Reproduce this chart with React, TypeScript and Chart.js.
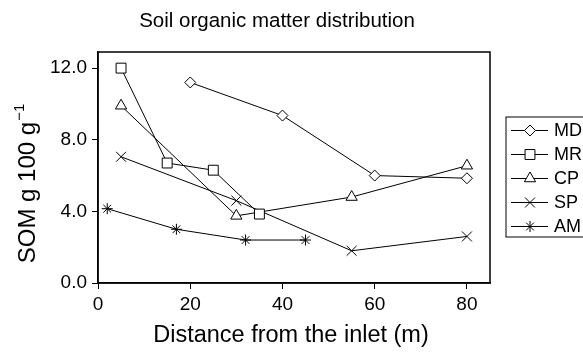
import React, { useEffect, useRef } from "react";
import { Chart, registerables } from "chart.js";
Chart.register(...registerables);

const chartTitle = "Soil organic matter distribution";
const xTitle = "Distance from the inlet (m)";
const yTitleMain = "SOM g 100 g";
const yTitleSup = "\u22121";

const seriesNames = ["MD", "MR", "CP", "SP", "AM"];
const mdX = [20, 40, 60, 80];
const mdY = [11.2, 9.35, 6.0, 5.85];
const mrX = [5, 15, 25, 35];
const mrY = [12.0, 6.7, 6.3, 3.85];
const cpX = [5, 30, 55, 80];
const cpY = [9.9, 3.75, 4.8, 6.55];
const spX = [5, 30, 55, 80];
const spY = [7.05, 4.6, 1.8, 2.6];
const amX = [2, 17, 32, 45];
const amY = [4.15, 3.0, 2.4, 2.4];

const xTicks = [0, 20, 40, 60, 80];
const yTicks = [0, 4, 8, 12];

const FONT = "'Liberation Sans', Arial, Helvetica, sans-serif";
const pointStyles = ["rectRot", "rect", "triangle", "crossRot", "star"];
const pointRadii = [5.5, 7, 6.5, 7, 5.5];

const seriesX = [mdX, mrX, cpX, spX, amX];
const seriesY = [mdY, mrY, cpY, spY, amY];

function drawMarker(ctx: CanvasRenderingContext2D, style: string, r: number, x: number, y: number) {
  ctx.beginPath();
  const s = Math.SQRT1_2 * r;
  if (style === "rect") {
    ctx.rect(x - s, y - s, 2 * s, 2 * s);
    ctx.fill();
    ctx.stroke();
  } else if (style === "rectRot") {
    ctx.moveTo(x, y - r);
    ctx.lineTo(x + r, y);
    ctx.lineTo(x, y + r);
    ctx.lineTo(x - r, y);
    ctx.closePath();
    ctx.fill();
    ctx.stroke();
  } else if (style === "triangle") {
    let rad = 0;
    ctx.moveTo(x + Math.sin(rad) * r, y - Math.cos(rad) * r);
    rad += (2 * Math.PI) / 3;
    ctx.lineTo(x + Math.sin(rad) * r, y - Math.cos(rad) * r);
    rad += (2 * Math.PI) / 3;
    ctx.lineTo(x + Math.sin(rad) * r, y - Math.cos(rad) * r);
    ctx.closePath();
    ctx.fill();
    ctx.stroke();
  } else if (style === "crossRot") {
    ctx.moveTo(x - s, y - s);
    ctx.lineTo(x + s, y + s);
    ctx.moveTo(x - s, y + s);
    ctx.lineTo(x + s, y - s);
    ctx.stroke();
  } else if (style === "star") {
    ctx.moveTo(x - s, y - s);
    ctx.lineTo(x + s, y + s);
    ctx.moveTo(x - s, y + s);
    ctx.lineTo(x + s, y - s);
    ctx.moveTo(x, y - r);
    ctx.lineTo(x, y + r);
    ctx.moveTo(x - r, y);
    ctx.lineTo(x + r, y);
    ctx.stroke();
  }
}

const decor = {
  id: "decor",
  afterDraw(chart: any) {
    const ctx = chart.ctx;
    const a = chart.chartArea;
    ctx.save();
    ctx.strokeStyle = "#000";
    ctx.lineWidth = 1.5;
    ctx.strokeRect(a.left, a.top, a.right - a.left, a.bottom - a.top);

    ctx.fillStyle = "#000";
    ctx.textAlign = "center";
    ctx.textBaseline = "middle";
    ctx.font = `20.5px ${FONT}`;
    ctx.fillText(chartTitle, 277, 21);
    ctx.font = `23.5px ${FONT}`;
    ctx.fillText(xTitle, 291, 336);

    ctx.save();
    ctx.translate(35, 184);
    ctx.rotate(-Math.PI / 2);
    ctx.font = `24px ${FONT}`;
    const wMain = ctx.measureText(yTitleMain).width;
    ctx.font = `15px ${FONT}`;
    const wSup = ctx.measureText(yTitleSup).width;
    const total = wMain + wSup;
    ctx.textAlign = "left";
    ctx.textBaseline = "alphabetic";
    ctx.font = `24px ${FONT}`;
    ctx.fillText(yTitleMain, -total / 2, 0);
    ctx.font = `15px ${FONT}`;
    ctx.fillText(yTitleSup, -total / 2 + wMain + 1, -11);
    ctx.restore();

    const lx = 506, ly = 117, lw = 90, lh = 120;
    ctx.lineWidth = 1;
    ctx.strokeRect(lx, ly, lw, lh);
    ctx.font = `18px ${FONT}`;
    ctx.textAlign = "left";
    ctx.textBaseline = "middle";
    seriesNames.forEach((name, i) => {
      const y = 130.5 + i * 24;
      ctx.strokeStyle = "#000";
      ctx.lineWidth = 1;
      ctx.beginPath();
      ctx.moveTo(511, y);
      ctx.lineTo(548, y);
      ctx.stroke();
      ctx.fillStyle = "#fff";
      drawMarker(ctx, pointStyles[i], pointRadii[i], 530, y);
      ctx.fillStyle = "#000";
      ctx.fillText(name, 554, y + 1);
    });
    ctx.restore();
  },
};

export default function App() {
  const ref = useRef<HTMLCanvasElement>(null);
  useEffect(() => {
    if (!ref.current) return;
    const datasets = seriesNames.map((name, i) => ({
      label: name,
      data: seriesX[i].map((x, j) => ({ x, y: seriesY[i][j] })),
      borderColor: "#000",
      borderWidth: 1,
      backgroundColor: "#fff",
      pointStyle: pointStyles[i],
      pointRadius: pointRadii[i],
      pointBorderWidth: 1,
      pointBorderColor: "#000",
      pointBackgroundColor: "#fff",
      showLine: true,
      fill: false,
      tension: 0,
    }));
    const chart = new Chart(ref.current, {
      type: "line",
      data: { datasets },
      options: {
        animation: false,
        responsive: false,
        devicePixelRatio: 1,
        layout: { padding: { left: 0, top: 52, right: 93, bottom: 0 } },
        plugins: { legend: { display: false }, title: { display: false }, tooltip: { enabled: false } },
        scales: {
          x: {
            type: "linear",
            min: 0,
            max: 85,
            afterBuildTicks: (s: any) => {
              s.ticks = xTicks.map((v) => ({ value: v }));
            },
            afterFit: (s: any) => {
              s.height = 71;
            },
            grid: { display: true, drawOnChartArea: false, drawTicks: true, tickLength: 6, color: "#000", lineWidth: 1 },
            border: { display: true, color: "#000", width: 1.5 },
            ticks: {
              color: "#000",
              font: { family: FONT, size: 19 },
              padding: 4,
              maxRotation: 0,
              callback: (v: any) => String(v),
            },
          },
          y: {
            type: "linear",
            min: 0,
            max: 12.9,
            afterBuildTicks: (s: any) => {
              s.ticks = yTicks.map((v) => ({ value: v }));
            },
            afterFit: (s: any) => {
              s.width = 98;
            },
            grid: { display: true, drawOnChartArea: false, drawTicks: true, tickLength: 6, color: "#000", lineWidth: 1 },
            border: { display: true, color: "#000", width: 1.5 },
            ticks: {
              color: "#000",
              font: { family: FONT, size: 19 },
              padding: 5,
              callback: (v: any) => Number(v).toFixed(1),
            },
          },
        },
      },
      plugins: [decor],
    } as any);
    return () => chart.destroy();
  }, []);
  return (
    <div style={{ position: "absolute", left: 0, top: 0, width: 583, height: 354, background: "#fff" }}>
      <canvas ref={ref} width={583} height={354} style={{ width: 583, height: 354 }} />
    </div>
  );
}
